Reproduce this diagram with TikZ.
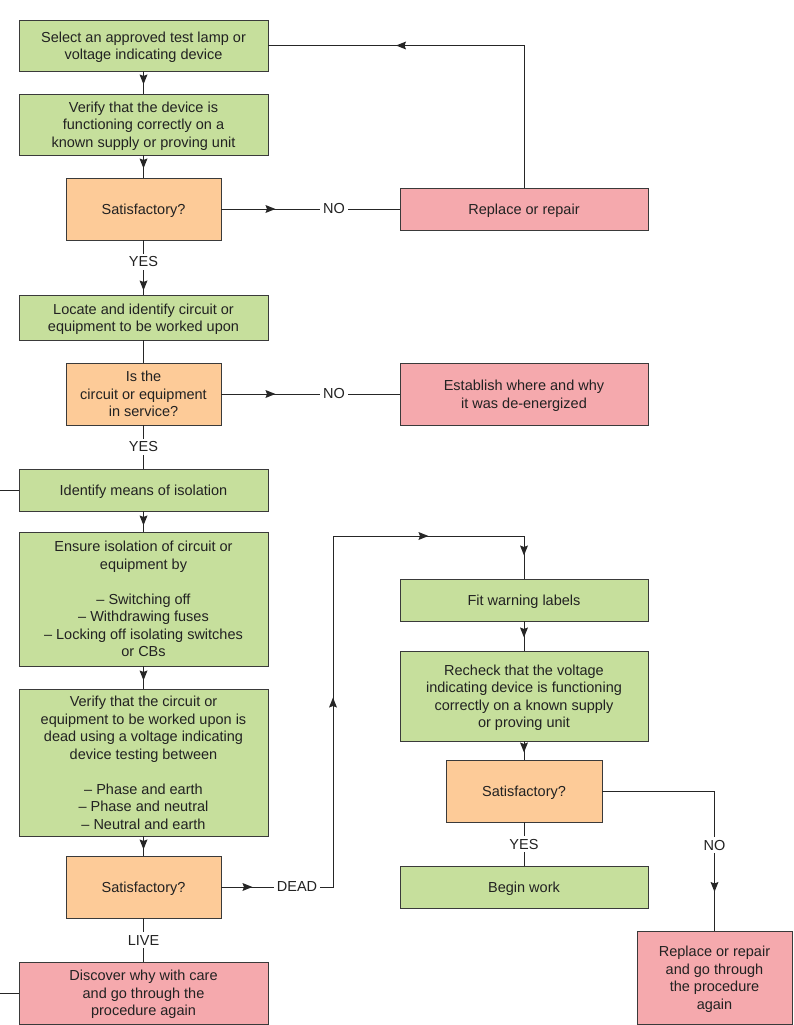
\documentclass[tikz,border=0pt]{standalone}
\usepackage{fontspec}
\setmainfont{Liberation Sans}
\usetikzlibrary{arrows.meta,decorations.markings}
\definecolor{gfill}{HTML}{C6DF9C}
\definecolor{ofill}{HTML}{FDCB98}
\definecolor{pfill}{HTML}{F5A9AD}
\definecolor{boxline}{HTML}{3A3A3A}
\definecolor{txt}{HTML}{222222}
\tikzset{
  box/.style={draw=boxline, line width=0.9pt, align=center, inner sep=0pt, text=txt,
    text depth=0pt, font=\fontsize{14.5}{17.5}\selectfont},
  gbox/.style={box, fill=gfill},
  obox/.style={box, fill=ofill},
  pbox/.style={box, fill=pfill},
  conn/.style={line width=0.9pt, draw=black!85},
  arrowat/.style={postaction={decorate, decoration={markings,
      mark=at position #1 with {\fill[black!85] (0pt,0pt) -- (-10pt,4pt) -- (-8.5pt,0pt) -- (-10pt,-4pt) -- cycle;}}}},
  lbl/.style={fill=white, inner sep=3pt, text=txt, font=\fontsize{14.5}{17.5}\selectfont},
}
\begin{document}
\begin{tikzpicture}[x=1pt,y=-1pt]
\useasboundingbox (0,0) rectangle (793,1025);
% left column
\node[gbox, minimum width=249pt, minimum height=51pt] (n1) at (143.5,45.5) {Select an approved test lamp or\\voltage indicating device};
\node[gbox, minimum width=249pt, minimum height=61pt] (n2) at (143.5,124.5) {Verify that the device is\\functioning correctly on a\\known supply or proving unit};
\node[obox, minimum width=155pt, minimum height=62pt] (n3) at (143.5,209) {Satisfactory?};
\node[pbox, minimum width=248pt, minimum height=42pt] (n4) at (524,209) {Replace or repair};
\node[gbox, minimum width=249pt, minimum height=45pt] (n5) at (143.5,317.5) {Locate and identify circuit or\\equipment to be worked upon};
\node[obox, minimum width=155pt, minimum height=62pt] (n6) at (143.5,394) {Is the\\circuit or equipment\\in service?};
\node[pbox, minimum width=248pt, minimum height=62pt] (n7) at (524,394) {Establish where and why\\it was de-energized};
\node[gbox, minimum width=249pt, minimum height=42pt] (n8) at (143.5,490) {Identify means of isolation};
\node[gbox, minimum width=249pt, minimum height=134pt] (n9) at (143.5,599) {Ensure isolation of circuit or\\equipment by\\~\\– Switching off\\– Withdrawing fuses\\– Locking off isolating switches\\or CBs};
\node[gbox, minimum width=249pt, minimum height=147pt] (n10) at (143.5,762.5) {Verify that the circuit or\\equipment to be worked upon is\\dead using a voltage indicating\\device testing between\\~\\– Phase and earth\\– Phase and neutral\\– Neutral and earth};
\node[obox, minimum width=155pt, minimum height=62pt] (n11) at (143.5,887) {Satisfactory?};
\node[pbox, minimum width=249pt, minimum height=62pt] (n12) at (143.5,993) {Discover why with care\\and go through the\\procedure again};
% right column
\node[gbox, minimum width=248pt, minimum height=42pt] (n13) at (524,600) {Fit warning labels};
\node[gbox, minimum width=248pt, minimum height=90pt] (n14) at (524,696) {Recheck that the voltage\\indicating device is functioning\\correctly on a known supply\\or proving unit};
\node[obox, minimum width=156pt, minimum height=62pt] (n15) at (524,791) {Satisfactory?};
\node[gbox, minimum width=248pt, minimum height=42pt] (n16) at (524,887) {Begin work};
\node[pbox, minimum width=155pt, minimum height=93pt] (n17) at (714.5,977.5) {Replace or repair\\and go through\\the procedure\\again};
% helper coordinates
\coordinate (L1) at (0,490);
\coordinate (L2) at (0,993);
\coordinate (c1) at (333,887);
\coordinate (c2) at (333,536);
% connectors
\draw[conn, arrowat=13pt] (n1.south) -- (n2.north);
\draw[conn, arrowat=13pt] (n2.south) -- (n3.north);
\draw[conn, arrowat=54pt] (n3.east) -- (n4.west);
\draw[conn, arrowat=270pt] (n4.north) |- (n1.east);
\draw[conn, arrowat=50pt] (n3.south) -- (n5.north);
\draw[conn] (n5.south) -- (n6.north);
\draw[conn, arrowat=54pt] (n6.east) -- (n7.west);
\draw[conn] (n6.south) -- (n8.north);
\draw[conn] (L1) -- (n8.west);
\draw[conn, arrowat=14pt] (n8.south) -- (n9.north);
\draw[conn, arrowat=14pt] (n9.south) -- (n10.north);
\draw[conn, arrowat=13pt] (n10.south) -- (n11.north);
\draw[conn, arrowat=31pt, arrowat=301pt, arrowat=558pt, arrowat=673pt] (n11.east) -- (c1) -- (c2) -| (n13.north);
\draw[conn] (n11.south) -- (n12.north);
\draw[conn] (n12.west) -- (L2);
\draw[conn, arrowat=16pt] (n13.south) -- (n14.north);
\draw[conn, arrowat=11pt] (n14.south) -- (n15.north);
\draw[conn] (n15.south) -- (n16.north);
\draw[conn, arrowat=213pt] (n15.east) -| (n17.north);
% labels
\node[lbl] (t1) at (334,209) {NO};
\node[lbl] (t2) at (143.5,262) {YES};
\node[lbl] (t3) at (334,394) {NO};
\node[lbl] (t4) at (143.5,447) {YES};
\node[lbl] (t5) at (297,887) {DEAD};
\node[lbl] (t6) at (143.5,940) {LIVE};
\node[lbl] (t7) at (524,844) {YES};
\node[lbl] (t8) at (714.5,845) {NO};
\end{tikzpicture}
\end{document}
